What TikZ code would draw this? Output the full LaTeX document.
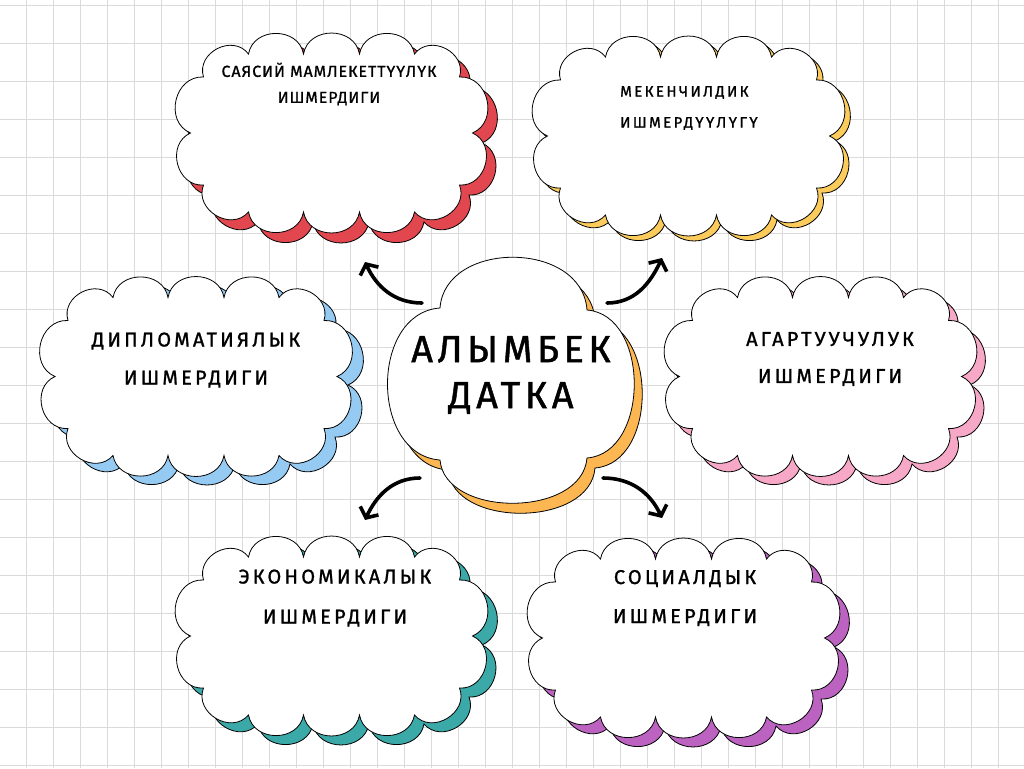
\documentclass[tikz,border=0pt]{standalone}
\usepackage{fontspec}
\setmainfont{Fira Sans}
\newfontfamily\bigfont[LetterSpace=12,FakeBold=1.2]{Fira Sans}
\newfontfamily\midfont[LetterSpace=16,FakeBold=1.2]{Fira Sans}
\newfontfamily\smallfont[LetterSpace=6,FakeBold=1]{Fira Sans}
\usetikzlibrary{arrows.meta}
\definecolor{cred}{HTML}{E2474F}
\definecolor{cyel}{HTML}{FBCB5C}
\definecolor{cblue}{HTML}{95CBF3}
\definecolor{cpink}{HTML}{F6A8C6}
\definecolor{cteal}{HTML}{3BA9A8}
\definecolor{cpurp}{HTML}{BC63C1}
\definecolor{corange}{HTML}{FDB752}
\definecolor{gridc}{HTML}{DADADA}
\begin{document}
\begin{tikzpicture}[x=1pt,y=-1pt,
  puff/.style={bend left=80,looseness=1.3},
  outline/.style={draw=black,line width=0.8pt},
  gridline/.style={gridc,line width=0.6pt},
  lbl/.style={align=center,text=black,inner sep=0pt},
  arr/.style={line width=3.6pt,line cap=round,line join=round,-{Straight Barb[length=8pt,width=20pt]}},
  pics/scloud/.style={code={
    \path[pic actions] (-83,-79) to[puff] (-28,-79) to[puff] (28,-79) to[puff] (83,-79)
      to[puff] (128,-56) to[puff] (141,0) to[puff] (128,52) to[puff] (83,79)
      to[puff] (28,79) to[puff] (-28,79) to[puff] (-83,79) to[puff] (-128,52)
      to[puff] (-141,0) to[puff] (-128,-56) to[puff] (-83,-79) -- cycle;
  }}
]
\fill[white] (0,0) rectangle (1024,768);
\useasboundingbox (0,0) rectangle (1024,768);
\foreach \i in {0,...,37} \draw[gridline] ({26+27*\i},0) -- ({26+27*\i},768);
\foreach \j in {0,...,20} \draw[gridline] (0,{5+38*\j}) -- (1024,{5+38*\j});

% clouds: shadow then white
\pic[fill=cred,outline] at (341,143) {scloud};
\pic[fill=white,outline] at (331.5,133) {scloud};
\pic[fill=cyel,outline] at (694,141) {scloud};
\pic[fill=white,outline] at (688.5,136) {scloud};
\pic[fill=cblue,outline] at (207,385) {scloud};
\pic[fill=white,outline] at (196,376.5) {scloud};
\pic[fill=cpink,outline] at (829,385) {scloud};
\pic[fill=white,outline] at (820.5,376.5) {scloud};
\pic[fill=cteal,outline] at (341,645) {scloud};
\pic[fill=white,outline] at (331.5,636) {scloud};
\pic[fill=cpurp,outline] at (693,647) {scloud};
\pic[fill=white,outline] at (683.5,638) {scloud};

% centre shape
\begin{scope}[shift={(8,10)}]
\path[fill=corange,outline] (440,308) .. controls (445,240) and (582,240) .. (587,310)
  .. controls (650,315) and (650,453) .. (587,458)
  .. controls (582,518) and (445,518) .. (440,460)
  .. controls (370,455) and (370,313) .. (440,308) -- cycle;
\end{scope}
\path[fill=white,outline] (440,308) .. controls (445,240) and (582,240) .. (587,310)
  .. controls (650,315) and (650,453) .. (587,458)
  .. controls (582,518) and (445,518) .. (440,460)
  .. controls (370,455) and (370,313) .. (440,308) -- cycle;

% labels
\node[lbl,font={\bigfont\fontsize{38}{46}\selectfont}] (center) at (511,375) {АЛЫМБЕК\\ДАТКА};
\node[lbl,font={\smallfont\fontsize{16}{26}\selectfont}] (pol) at (329,84) {САЯСИЙ МАМЛЕКЕТТҮҮЛҮК\\ИШМЕРДИГИ};
\node[lbl,align=left,anchor=west,font={\midfont\fontsize{15}{31}\selectfont}] (land) at (620,108) {МЕКЕНЧИЛДИК\\ИШМЕРДҮҮЛҮГҮ};
\node[lbl,font={\midfont\fontsize{20}{38}\selectfont}] (dip) at (196,360) {ДИПЛОМАТИЯЛЫК\\ИШМЕРДИГИ};
\node[lbl,font={\midfont\fontsize{20}{37}\selectfont}] (edu) at (830,359) {АГАРТУУЧУЛУК\\ИШМЕРДИГИ};
\node[lbl,font={\midfont\fontsize{20}{40}\selectfont}] (eco) at (335,598) {ЭКОНОМИКАЛЫК\\ИШМЕРДИГИ};
\node[lbl,font={\midfont\fontsize{20}{39}\selectfont}] (soc) at (685,598) {СОЦИАЛДЫК\\ИШМЕРДИГИ};

% arrows
\coordinate (a1s) at (422,303); \coordinate (a1e) at (365,262);
\coordinate (a2s) at (607,303); \coordinate (a2e) at (662,258);
\coordinate (a3s) at (420,478); \coordinate (a3e) at (365,520);
\coordinate (a4s) at (603,478); \coordinate (a4e) at (662,518);
\draw[arr] (a1s) to[out=180,in=-65] (a1e);
\draw[arr] (a2s) to[out=0,in=-115] (a2e);
\draw[arr] (a3s) to[out=180,in=65] (a3e);
\draw[arr] (a4s) to[out=0,in=115] (a4e);
\end{tikzpicture}
\end{document}
